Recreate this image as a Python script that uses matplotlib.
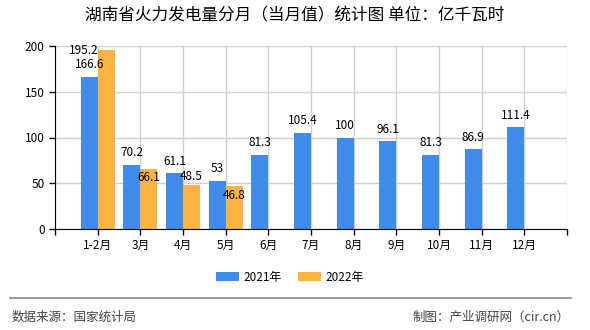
import numpy as np
import matplotlib
matplotlib.use("Agg")
import matplotlib.pyplot as plt

plt.rcParams['font.family'] = ['Noto Sans CJK SC', 'DejaVu Sans']

# Data
months = ["1-2月", "3月", "4月", "5月", "6月", "7月", "8月", "9月", "10月", "11月", "12月"]
vals_2021 = [166.6, 70.2, 61.1, 53, 81.3, 105.4, 100, 96.1, 81.3, 86.9, 111.4]
vals_2022 = [195.2, 66.1, 48.5, 46.8]
series_names = ["2021年", "2022年"]
yticks = [0, 50, 100, 150, 200]

blue = "#418BEB"
orange = "#FBB441"

fig = plt.figure(figsize=(5.9, 3.3), dpi=100)
ax = fig.add_axes([55/590, 1-229/330, 512/590, 183/330])

x = np.arange(1, len(months) + 1)
w = 0.4
b1 = ax.bar(x - w/2, vals_2021, width=w, color=blue, label=series_names[0], zorder=3)
x2 = x[:len(vals_2022)]
b2 = ax.bar(x2 + w/2, vals_2022, width=w, color=orange, label=series_names[1], zorder=3)

# value labels, centred ~12px above the bar top; a few moved like in the original
nudge_22 = {0: (-16, 0), 1: (0, -6.5), 2: (0, 5.5), 3: (0, -6.5)}
for i, v in enumerate(vals_2021):
    ax.annotate(f"{v:g}", (x[i] - w/2, v), xytext=(0, 8.5), textcoords="offset points",
                ha="center", va="center", fontsize=8.5, zorder=5)
for i, v in enumerate(vals_2022):
    dx, dy = nudge_22.get(i, (0, 8.5))
    ax.annotate(f"{v:g}", (x2[i] + w/2, v), xytext=(dx, dy), textcoords="offset points",
                ha="center", va="center", fontsize=8.5, zorder=5)

ax.set_xlim(0, 12)
ax.set_ylim(0, 200)
ax.set_yticks(yticks)
ax.set_xticks(np.arange(0, 13))
ax.set_xticklabels([""] + months + [""])
ax.tick_params(axis="both", labelsize=8.5, length=4, width=1, color="black")
ax.grid(True, color="#d0d0d0", linewidth=1, zorder=0)
for s in ["top", "right"]:
    ax.spines[s].set_visible(False)
for s in ["left", "bottom"]:
    ax.spines[s].set_color("black")
    ax.spines[s].set_zorder(4)

fig.text(0.5, 1-16/330, "湖南省火力发电量分月（当月值）统计图 单位：亿千瓦时",
         ha="center", va="center", fontsize=12)

fig.legend(handles=[b1, b2], labels=series_names, loc="center",
           bbox_to_anchor=(290/590, 1-277/330), ncol=2, frameon=False,
           fontsize=8.5, handlelength=1.9, handleheight=0.7, handletextpad=0.4,
           columnspacing=1.4)

fig.add_artist(plt.Line2D([10/590, 571/590], [1-298/330, 1-298/330],
                          color="#888888", linewidth=1.2, transform=fig.transFigure))
fig.text(12/590, 1-317/330, "数据来源：国家统计局", ha="left", va="center",
         fontsize=9, color="#444444")
fig.text(570/590, 1-317/330, "制图：产业调研网（cir.cn）", ha="right", va="center",
         fontsize=9, color="#444444")

fig.savefig("out.png", dpi=100)
